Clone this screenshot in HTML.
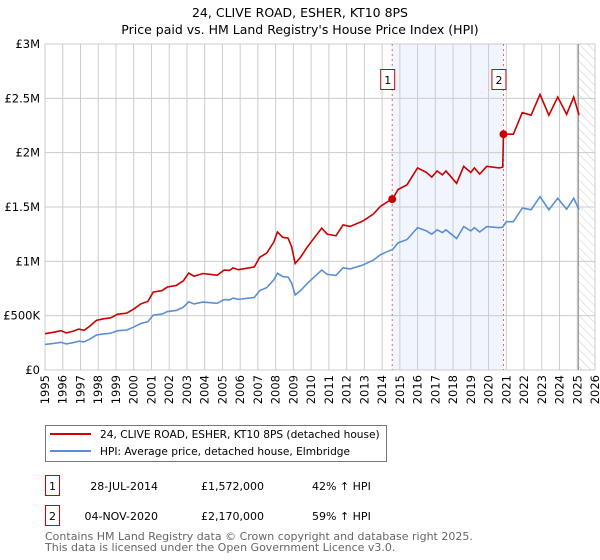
<!DOCTYPE html>
<html><head><meta charset="utf-8"><style>
body{margin:0;background:#fff;}
svg{display:block;font-family:"DejaVu Sans","Liberation Sans",sans-serif;}
</style></head><body>
<svg id="chart" width="600" height="560" viewBox="0 0 600 560">
<text x="300" y="17" text-anchor="middle" font-size="12.5" fill="#000">24, CLIVE ROAD, ESHER, KT10 8PS</text>
<text x="300" y="34" text-anchor="middle" font-size="12.5" fill="#000">Price paid vs. HM Land Registry's House Price Index (HPI)</text>
<g id="plot"></g>
<g>
<rect x="45.5" y="425.5" width="341" height="36" fill="#fff" stroke="#777"/>
<line x1="50" y1="434" x2="91" y2="434" stroke="#cc0000" stroke-width="2"/>
<text x="100" y="438" font-size="10.6">24, CLIVE ROAD, ESHER, KT10 8PS (detached house)</text>
<line x1="50" y1="451" x2="91" y2="451" stroke="#5b8fd4" stroke-width="2"/>
<text x="100" y="455" font-size="10.6">HPI: Average price, detached house, Elmbridge</text>
</g>
<g>
<rect x="45.5" y="475.5" width="14" height="20" fill="none" stroke="#cc0000"/>
<text x="52.5" y="490" font-size="11" text-anchor="middle">1</text>
<text x="158" y="490" font-size="11" text-anchor="end">28-JUL-2014</text>
<text x="264" y="490" font-size="11" text-anchor="end">£1,572,000</text>
<text x="312" y="490" font-size="11">42% ↑ HPI</text>
<rect x="45.5" y="505.5" width="14" height="20" fill="none" stroke="#cc0000"/>
<text x="52.5" y="520" font-size="11" text-anchor="middle">2</text>
<text x="158" y="520" font-size="11" text-anchor="end">04-NOV-2020</text>
<text x="264" y="520" font-size="11" text-anchor="end">£2,170,000</text>
<text x="312" y="520" font-size="11">59% ↑ HPI</text>
</g>
<text x="45" y="540" font-size="11" fill="#666">Contains HM Land Registry data © Crown copyright and database right 2025.</text>
<text x="45" y="551" font-size="11" fill="#666">This data is licensed under the Open Government Licence v3.0.</text>
</svg>
<script>
const hpiYears=[1995.0,1995.5,1995.9,1996.2,1996.6,1996.9,1997.2,1997.5,1997.9,1998.3,1998.7,1999.1,1999.6,2000.0,2000.4,2000.8,2001.1,2001.6,2001.9,2002.4,2002.8,2003.1,2003.4,2003.9,2004.4,2004.7,2005.1,2005.4,2005.6,2005.9,2006.4,2006.8,2007.1,2007.5,2007.9,2008.1,2008.4,2008.7,2008.9,2009.1,2009.4,2009.8,2010.2,2010.6,2010.9,2011.4,2011.8,2012.2,2012.9,2013.5,2013.9,2014.3,2014.6,2014.9,2015.4,2016.0,2016.5,2016.8,2017.1,2017.4,2017.6,2018.2,2018.6,2019.0,2019.2,2019.5,2019.9,2020.6,2020.8,2021.0,2021.4,2021.9,2022.4,2022.9,2023.4,2023.9,2024.4,2024.8,2025.1];
const hpiValues=[235,245,255,240,252,265,258,282,322,332,338,362,368,395,428,445,505,515,538,548,578,628,608,625,618,614,648,645,662,650,660,668,730,758,830,890,860,855,800,690,730,800,860,920,880,870,940,930,965,1010,1060,1090,1110,1170,1200,1310,1280,1250,1290,1265,1290,1210,1320,1280,1310,1270,1320,1310,1315,1365,1365,1490,1475,1595,1475,1580,1480,1580,1475];
const propYears=[1995.0,1995.5,1995.9,1996.2,1996.6,1996.9,1997.2,1997.5,1997.9,1998.3,1998.7,1999.1,1999.6,2000.0,2000.4,2000.8,2001.1,2001.6,2001.9,2002.4,2002.8,2003.1,2003.4,2003.9,2004.4,2004.7,2005.1,2005.4,2005.6,2005.9,2006.4,2006.8,2007.1,2007.5,2007.9,2008.1,2008.4,2008.7,2008.9,2009.1,2009.4,2009.8,2010.2,2010.6,2010.9,2011.4,2011.8,2012.2,2012.9,2013.5,2013.9,2014.3,2014.6,2014.9,2015.4,2016.0,2016.5,2016.8,2017.1,2017.4,2017.6,2018.2,2018.6,2019.0,2019.2,2019.5,2019.9,2020.6,2020.8,2020.84,2021.0,2021.4,2021.9,2022.4,2022.9,2023.4,2023.9,2024.4,2024.8,2025.1];
const propValues=[334,348,362,341,358,376,366,400,457,471,480,514,523,561,608,632,717,731,764,778,821,892,863,888,878,872,920,916,940,923,937,949,1037,1076,1179,1270,1221,1214,1136,980,1037,1136,1221,1306,1250,1235,1335,1321,1370,1434,1505,1548,1576,1661,1704,1860,1818,1775,1832,1796,1832,1718,1874,1818,1860,1803,1874,1860,1867,2170,2170,2170,2369,2345,2536,2345,2512,2353,2512,2345];
const saleYears=[2014.57,2020.84];
const saleValues=[1572,2170];
const saleLabels=["1","2"];
const yTicks=[0,500,1000,1500,2000,2500,3000];
const yTickLabels=["£0","£500K","£1M","£1.5M","£2M","£2.5M","£3M"];
const xTicks=[1995,1996,1997,1998,1999,2000,2001,2002,2003,2004,2005,2006,2007,2008,2009,2010,2011,2012,2013,2014,2015,2016,2017,2018,2019,2020,2021,2022,2023,2024,2025,2026];
const dataEndYear=2025.06;

const L=45,R=595,T=44,B=370,X0=1995,X1=2026,YMAX=3000;
const sx=y=>L+(y-X0)/(X1-X0)*(R-L);
const sy=v=>B-v/YMAX*(B-T);
const NS="http://www.w3.org/2000/svg";
const plot=document.getElementById('plot');
function mk(tag,attrs,parent){const e=document.createElementNS(NS,tag);for(const k in attrs)e.setAttribute(k,attrs[k]);(parent||plot).appendChild(e);return e;}

const band=mk('rect',{x:sx(saleYears[0]),y:T,width:sx(saleYears[1])-sx(saleYears[0]),height:B-T,fill:'#eef3fc',opacity:0.8});



const defs=mk('defs',{});
const pat=mk('pattern',{id:'hatch',width:6,height:6,patternUnits:'userSpaceOnUse',patternTransform:'rotate(-45)'},defs);
mk('line',{x1:0,y1:0,x2:0,y2:6,stroke:'#ccc','stroke-width':1},pat);
const hatch=mk('rect',{x:sx(dataEndYear),y:T,width:R-sx(dataEndYear),height:B-T,fill:'url(#hatch)'});



yTicks.forEach((v,i)=>{
  const g=mk('line',{x1:L,x2:R,y1:sy(v),y2:sy(v),stroke:'#ccc','stroke-width':1});
  
  
  const t=mk('text',{x:L-5,y:sy(v)+4,'text-anchor':'end','font-size':11.5,fill:'#000'});
  t.textContent=yTickLabels[i];
  
  
});
xTicks.forEach(yr=>{
  const g=mk('line',{x1:sx(yr),x2:sx(yr),y1:T,y2:B,stroke:'#ccc','stroke-width':1});
  
  
  const x=sx(yr)+4,y=B+5;
  const t=mk('text',{x:x,y:y,'text-anchor':'end','font-size':11.5,fill:'#000',transform:`rotate(-90 ${x} ${y})`});
  t.textContent=String(yr);
  
  
});
const endLine=mk('line',{x1:sx(dataEndYear),x2:sx(dataEndYear),y1:T,y2:B,stroke:'#888','stroke-width':1});



saleYears.forEach((yr,i)=>{
  const l=mk('line',{x1:sx(yr),x2:sx(yr),y1:T,y2:B,stroke:'#e06666','stroke-width':1,'stroke-dasharray':'2,3'});
  
  
  const r=mk('rect',{x:sx(yr)-11.5,y:69.5,width:14,height:20,fill:'#fff',stroke:'#cc0000'});
  
  
  const t=mk('text',{x:sx(yr)-4.5,y:84,'text-anchor':'middle','font-size':11});
  t.textContent=saleLabels[i];
  
  
});

const hp=mk('polyline',{points:hpiYears.map((y,i)=>sx(y)+','+sy(hpiValues[i])).join(' '),fill:'none',stroke:'#5b8fd4','stroke-width':1.6});


const pp=mk('polyline',{points:propYears.map((y,i)=>sx(y)+','+sy(propValues[i])).join(' '),fill:'none',stroke:'#cc0000','stroke-width':1.6});


saleYears.forEach((yr,i)=>{
  const c=mk('circle',{cx:sx(yr),cy:sy(saleValues[i]),r:4,fill:'#cc0000'});
  
  
});
</script>
</body></html>
